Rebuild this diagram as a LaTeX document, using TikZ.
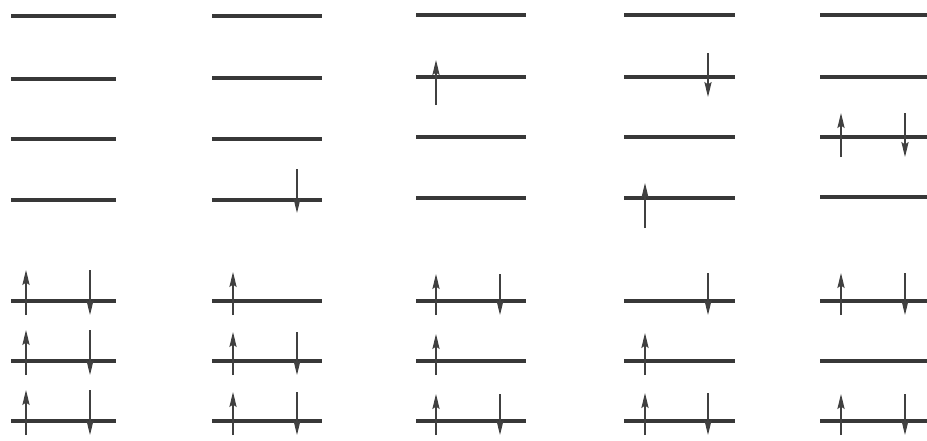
\documentclass[tikz,border=0pt]{standalone}
\usetikzlibrary{arrows.meta}
\begin{document}
\begin{tikzpicture}[x=0.5pt,y=-0.5pt,
  level/.style={line width=1.7pt, draw=black!78},
  spin/.style={line width=0.6pt, draw=black!75, -{Stealth[length=7.5pt,width=3.6pt,inset=1.2pt]}}]
\useasboundingbox[fill=white] (0,0) rectangle (927,440);
\newcommand\spinup[4]{\draw[spin] (#1,#2+#4) -- (#1,#2-#3);}
\newcommand\spindown[4]{\draw[spin] (#1,#2-#3) -- (#1,#2+#4);}
% levels: column left/right ends
\foreach \l/\r/\a/\b/\c/\d in {11/116/16/79/139/200, 212/322/16/78/139/200, 416/526/15/77/137/198, 624/735/15/77/137/198, 820/927/15/77/137/197}{
  \foreach \y in {\a,\b,\c,\d,301,361,421}{
    \draw[level] (\l,\y) -- (\r,\y);
  }
}
% column 1
\foreach \y in {301,361,421}{
  \spinup{26}{\y}{31}{14}
  \spindown{90}{\y}{31}{14}
}
% column 2
\spindown{297}{200}{31}{13}
\spinup{233}{301}{29}{14}
\spinup{233}{361}{29}{14}
\spindown{297}{361}{29}{14}
\spinup{233}{421}{29}{14}
\spindown{297}{421}{29}{14}
% column 3
\spinup{436}{77}{17}{28}
\spinup{436}{301}{27}{14}
\spindown{500}{301}{27}{14}
\spinup{436}{361}{27}{14}
\spinup{436}{421}{27}{14}
\spindown{500}{421}{27}{14}
% column 4
\spindown{708}{77}{24}{20}
\spinup{645}{198}{15}{30}
\spindown{708}{301}{28}{14}
\spinup{645}{361}{28}{14}
\spinup{645}{421}{28}{14}
\spindown{708}{421}{28}{14}
% column 5
\spinup{841}{137}{24}{20}
\spindown{905}{137}{24}{20}
\spinup{841}{301}{28}{14}
\spindown{905}{301}{28}{14}
\spinup{841}{421}{27}{14}
\spindown{905}{421}{27}{14}
\end{tikzpicture}
\end{document}
